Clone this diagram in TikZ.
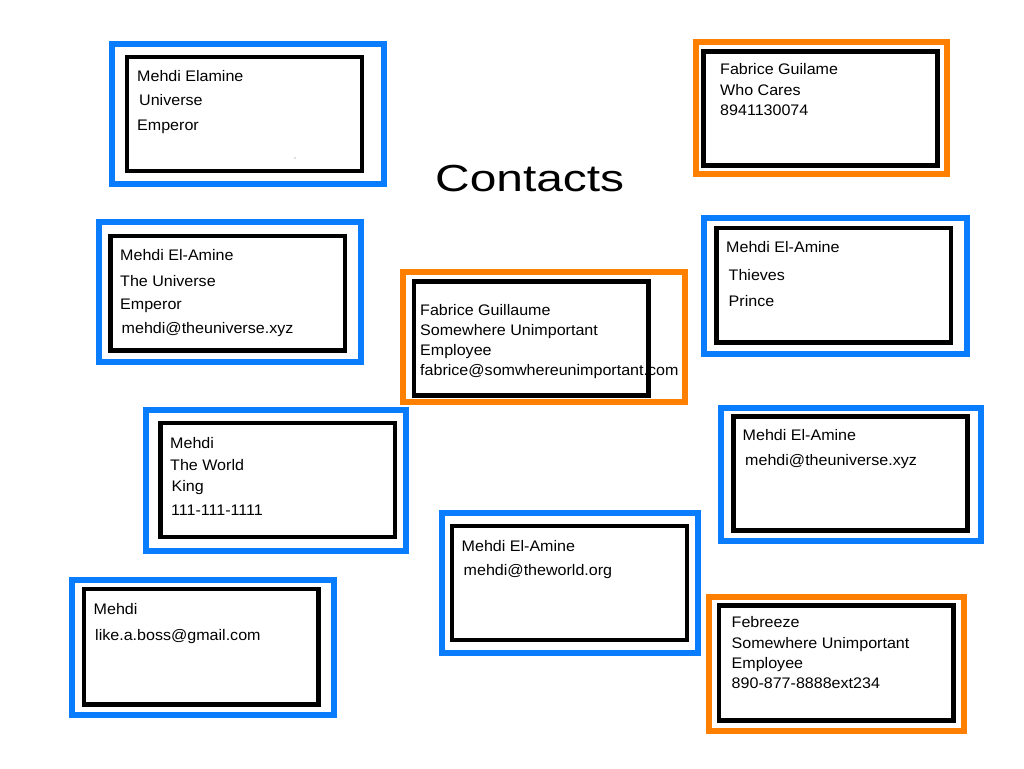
\documentclass[tikz,border=0pt]{standalone}
\usepackage{fontspec}
\newfontfamily\cardfont{Liberation Sans}[FakeStretch=1.05]
\newfontfamily\titlefont{Liberation Sans}[FakeStretch=1.27]
\definecolor{cblue}{RGB}{10,125,255}
\definecolor{corange}{RGB}{255,128,0}
\tikzset{
  blueframe/.style={draw=cblue, line width=6pt},
  orangeframe/.style={draw=corange, line width=6pt},
  cardframe/.style={draw=black, line width=4.5pt},
  txt/.style={anchor=base west, inner sep=0pt, font=\cardfont\fontsize{15.3}{18}\selectfont},
  titletxt/.style={anchor=base west, inner sep=0pt, font=\titlefont\fontsize{37.7}{42}\selectfont},
}
\begin{document}
\begin{tikzpicture}[x=1pt,y=-1pt]
\useasboundingbox[fill=white] (0,0) rectangle (1024,768);

% Title
\node[titletxt] (title) at (435,191) {Contacts};

% Card 1
\draw[blueframe] (112,44) rectangle (384,184);
\draw[cardframe] (127,57) rectangle (362,171);
\node[txt] (c1a) at (137,81.7) {Mehdi Elamine};
\node[txt] (c1b) at (139,105) {Universe};
\node[txt] (c1c) at (137,130) {Emperor};
\fill[gray] (295,158) circle (0.6);

% Card 2
\draw[orangeframe] (695.5,42) rectangle (947,173.7);
\draw[cardframe] (703.5,51.5) rectangle (937.5,165.5);
\node[txt] (c2a) at (720,74.3) {Fabrice Guilame};
\node[txt] (c2b) at (720,95) {Who Cares};
\node[txt] (c2c) at (720,115) {8941130074};

% Card 3
\draw[blueframe] (99,222) rectangle (361,362);
\draw[cardframe] (110.5,236) rectangle (345,350.5);
\node[txt] (c3a) at (120,260.7) {Mehdi El-Amine};
\node[txt] (c3b) at (120,286) {The Universe};
\node[txt] (c3c) at (120,309) {Emperor};
\node[txt] (c3d) at (121.5,333.3) {mehdi@theuniverse.xyz};

% Card 4
\draw[orangeframe] (403,272) rectangle (684.7,402);
\draw[cardframe] (414,281.3) rectangle (648.7,395.3);
\node[txt] (c4a) at (420,315) {Fabrice Guillaume};
\node[txt] (c4b) at (420,335) {Somewhere Unimportant};
\node[txt] (c4c) at (420,355) {Employee};
\node[txt] (c4d) at (420,375) {fabrice@somwhereunimportant.com};

% Card 5
\draw[blueframe] (704,218) rectangle (967,353.7);
\draw[cardframe] (716.3,228) rectangle (951,342.7);
\node[txt] (c5a) at (726,252.7) {Mehdi El-Amine};
\node[txt] (c5b) at (728.5,280) {Thieves};
\node[txt] (c5c) at (728.5,306.7) {Prince};

% Card 6
\draw[blueframe] (146.3,409.7) rectangle (406.3,551);
\draw[cardframe] (160.5,423) rectangle (395,537);
\node[txt] (c6a) at (170,448.3) {Mehdi};
\node[txt] (c6b) at (170,470.7) {The World};
\node[txt] (c6c) at (171.5,491.7) {King};
\node[txt] (c6d) at (171,515.7) {111-111-1111};

% Card 7
\draw[blueframe] (721.3,408) rectangle (981,541);
\draw[cardframe] (733.3,416.3) rectangle (967.7,530.3);
\node[txt] (c7a) at (742.5,440.7) {Mehdi El-Amine};
\node[txt] (c7b) at (745,465) {mehdi@theuniverse.xyz};

% Card 8
\draw[blueframe] (442,513) rectangle (697.7,652.7);
\draw[cardframe] (452.2,526.2) rectangle (687,640);
\node[txt] (c8a) at (461.5,551) {Mehdi El-Amine};
\node[txt] (c8b) at (463.5,575) {mehdi@theworld.org};

% Card 9
\draw[blueframe] (72,579.7) rectangle (334.3,714.7);
\draw[cardframe] (84,589) rectangle (318.7,704.3);
\node[txt] (c9a) at (93.5,614.3) {Mehdi};
\node[txt] (c9b) at (95,640) {like.a.boss@gmail.com};

% Card 10
\draw[orangeframe] (709,597) rectangle (963.7,731);
\draw[cardframe] (719,605.5) rectangle (953.7,720.5);
\node[txt] (c10a) at (731.5,627.3) {Febreeze};
\node[txt] (c10b) at (731.5,648.3) {Somewhere Unimportant};
\node[txt] (c10c) at (731.5,668.3) {Employee};
\node[txt] (c10d) at (731.5,688.3) {890-877-8888ext234};
\end{tikzpicture}
\end{document}
